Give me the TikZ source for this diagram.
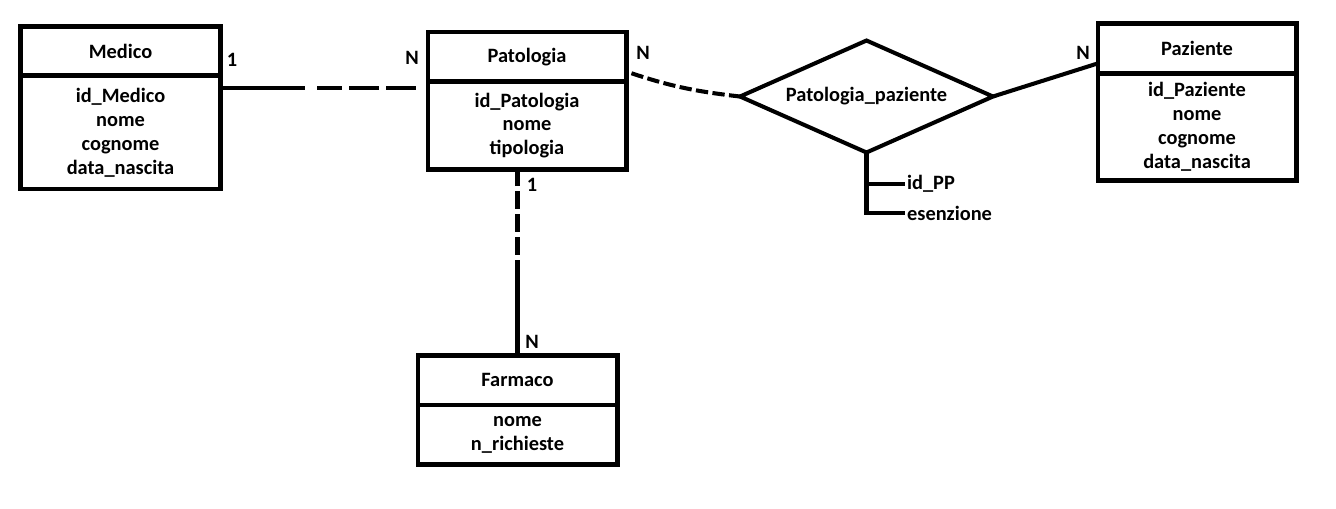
\documentclass[tikz,border=0pt]{standalone}
\usepackage{fontspec}
\setmainfont{Carlito}
\usetikzlibrary{shapes.geometric, calc}

\begin{document}
\begin{tikzpicture}[x=0.02cm, y=-0.02cm,
    txt/.style={font=\bfseries\fontsize{11.6}{13.6}\selectfont},
    box/.style={txt, draw, line width=2.3pt, align=center, inner sep=0pt, outer sep=0pt},
    rel/.style={txt, draw, diamond, aspect=2.26, line width=2.3pt, inner sep=0pt,
        outer sep=0pt, minimum width=5.06cm, minimum height=2.24cm},
    link/.style={line width=2.3pt},
    card/.style={txt, inner sep=0pt}]
    \useasboundingbox (0, 0) rectangle (1336, 508);
    % Medico
    \node[box, minimum width=4cm, minimum height=0.98cm] (medH) at (120.5, 51) {Medico};
    \node[box, minimum width=4cm, minimum height=2.28cm, anchor=north] (medB) at (medH.south)
        {id\_Medico\\nome\\cognome\\data\_nascita};
    % Patologia
    \node[box, minimum width=3.98cm, minimum height=0.99cm] (patH) at (527, 56.75) {Patologia};
    \node[box, minimum width=3.98cm, minimum height=1.76cm, anchor=north] (patB) at (patH.south)
        {id\_Patologia\\nome\\tipologia};
    % Paziente
    \node[box, minimum width=3.98cm, minimum height=1.0cm] (pazH) at (1197, 48.5) {Paziente};
    \node[box, minimum width=3.98cm, minimum height=2.14cm, anchor=north] (pazB) at (pazH.south)
        {id\_Paziente\\nome\\cognome\\data\_nascita};
    % Farmaco
    \node[box, minimum width=4cm, minimum height=0.99cm] (farH) at (517.5, 380.25) {Farmaco};
    \node[box, minimum width=4cm, minimum height=1.19cm, anchor=north] (farB) at (farH.south)
        {nome\\n\_richieste};
    % Relationship and its attributes
    \node[rel] (pp) at (866.5, 96.5) {Patologia\_paziente};
    \node[card, anchor=west, inner sep=1pt] (idpp) at (905, 184) {id\_PP};
    \node[card, anchor=west, inner sep=1pt] (esz) at (905, 213) {esenzione};
    \draw[link] (pp.south) |- (idpp.west);
    \draw[link] (pp.south) |- (esz.west);
    % Medico - Patologia
    \coordinate (m1) at ($(medB.north east)!0.11!(medB.south east)$);
    \draw[link] (m1) -- ++(85, 0) coordinate (m2);
    \draw[link, dash pattern=on 0pt off 6.8pt on 14.2pt off 4pt on 17pt off 4pt on 17pt off 20pt]
        (m2) -- (patB.west |- m2);
    % Patologia - Farmaco
    \draw[link] (farH.north) -- ++(0, -78) coordinate (f1);
    \draw[link, dash pattern=on 10.2pt off 2.8pt] (f1) -- (patB.south -| f1);
    % Patologia - Patologia_paziente - Paziente
    \draw[link, dash pattern=on 7pt off 2.5pt, shorten <=3pt]
        ($(patH.south east)!0.2!(patH.north east)$) to[bend right=6] (pp.west);
    \draw[link] (pp.east) -- ($(pazH.south west)!0.2!(pazH.north west)$);
    % Cardinalities
    \node[card] (c1) at (232, 60) {1};
    \node[card] (c2) at (412, 58) {N};
    \node[card] (c3) at (643, 53) {N};
    \node[card] (c4) at (1083, 53) {N};
    \node[card] (c5) at (532, 185) {1};
    \node[card] (c6) at (532, 342) {N};
\end{tikzpicture}
\end{document}
